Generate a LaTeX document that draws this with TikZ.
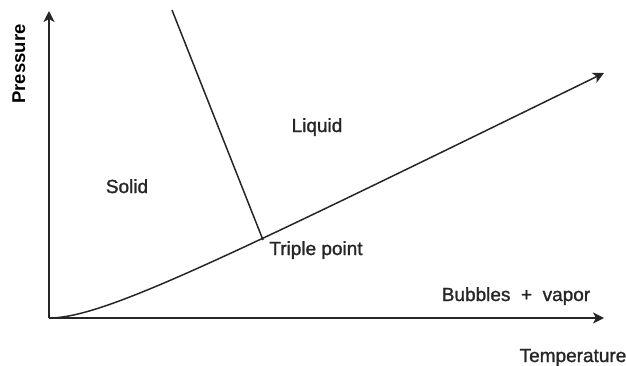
\documentclass[tikz,border=0pt]{standalone}
\usepackage{fontspec}
\setmainfont{Liberation Sans}
\newfontfamily\labelfont{Liberation Sans}[FakeBold=1.3]
\usetikzlibrary{arrows.meta}
\tikzset{
  phase/.style={font=\labelfont\fontsize{19}{22}\selectfont, text=black!85, inner sep=0pt, anchor=base},
  axis/.style={line width=1.5pt, draw=black!85, -{Stealth[length=11pt,width=11pt,inset=3pt]}},
  border/.style={line width=1.5pt, draw=black!85},
}
\begin{document}
\begin{tikzpicture}[x=1pt,y=-1pt]
  \useasboundingbox (0,0) rectangle (626,365);
  \coordinate (origin) at (49,318);
  \coordinate (ptop) at (49,11);
  \coordinate (tend) at (604,318);
  \coordinate (vend) at (604,73);
  \coordinate (melt) at (172,10);
  \coordinate (triple) at (263,240);

  \node[phase, rotate=90, text=black, font=\fontsize{18.5}{22}\selectfont\bfseries] (pres) at (25,64) {Pressure};
  \node[phase] (temp) at (573,362) {Temperature};
  \node[phase] (solid) at (127,193) {Solid};
  \node[phase] (liquid) at (317,132) {Liquid};
  \node[phase] (tp) at (316,255) {Triple point};
  \node[phase] (vapor) at (516,301) {Bubbles\ \ +\ \ vapor};

  \draw[axis] (origin) -- (ptop);
  \draw[axis] (origin) -- (tend);
  \draw[axis] (origin) .. controls (104,318) and (223,259) .. (vend);
  \draw[border] (melt) -- (triple);
\end{tikzpicture}
\end{document}
